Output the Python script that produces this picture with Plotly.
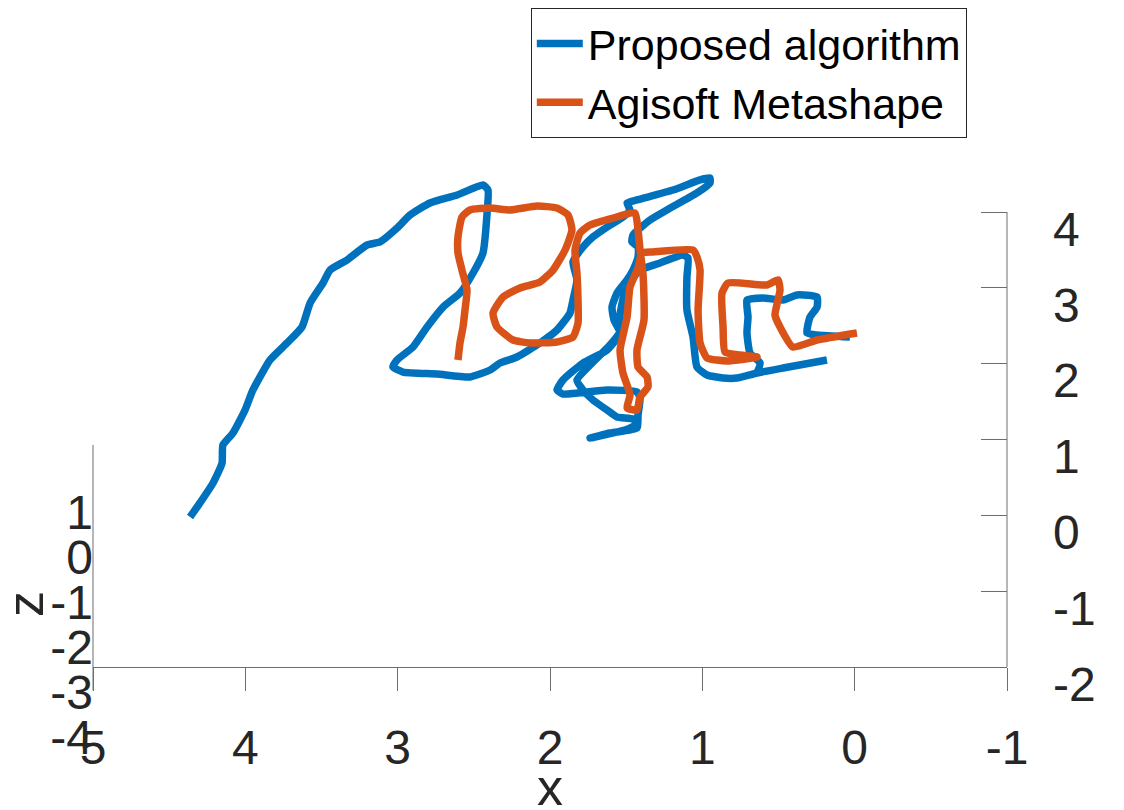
import plotly.graph_objects as go

# ---------------- data (x, y of the two camera trajectories, seen from above) ----------------
proposed_x = [4.363, 4.298, 4.212, 4.153, 4.147, 4.081, 4.002, 3.950, 3.838, 3.726, 3.628, 3.575,
              3.490, 3.444, 3.333, 3.201, 3.116, 3.004, 2.919, 2.788, 2.610, 2.440, 2.407, 2.413,
              2.440, 2.505, 2.591, 2.702, 2.807, 2.899, 3.004, 3.031, 2.965, 2.742, 2.525, 2.394,
              2.328, 2.217, 2.066, 1.954, 1.869, 1.849, 1.823, 1.849, 1.783, 1.718, 1.626, 1.521,
              1.475, 1.494, 1.429, 1.192, 1.015, 0.950, 0.950, 1.035, 1.232, 1.343, 1.455, 1.462,
              1.422, 1.422, 1.455, 1.494, 1.560, 1.593, 1.580, 1.540, 1.626, 1.783, 1.915, 1.954,
              1.915, 1.626, 1.429, 1.409, 1.422, 1.429, 1.606, 1.737,
              1.508, 1.429, 1.455, 1.560, 1.626, 1.718, 1.783, 1.823, 1.737, 1.606, 1.534, 1.540,
              1.514, 1.462, 1.409, 1.278, 1.127, 1.094, 1.101, 1.101, 1.061, 1.035, 0.969, 0.864,
              0.772, 0.641, 0.470, 0.182,
              None,
              0.641, 0.621, 0.687, 0.707, 0.700, 0.707, 0.602, 0.470, 0.378, 0.247, 0.247, 0.293,
              0.313, 0.247, 0.031]
proposed_y = [-0.022, 0.163, 0.426, 0.690, 0.928, 1.086, 1.389, 1.653, 2.049, 2.273, 2.484, 2.800,
              3.064, 3.235, 3.367, 3.565, 3.605, 3.789, 3.961, 4.119, 4.224, 4.356, 4.290, 3.987,
              3.460, 3.196, 2.932, 2.747, 2.484, 2.220, 2.049, 1.956, 1.890, 1.864, 1.825, 1.917,
              2.009, 2.088, 2.273, 2.444, 2.668, 2.840, 3.104, 3.341, 3.539, 3.671, 3.802, 3.934,
              4.027, 4.119, 4.159, 4.290, 4.423, 4.449, 4.383, 4.251, 4.027, 3.895, 3.697, 3.605,
              3.539, 3.407, 3.235, 3.104, 2.932, 2.747, 2.576, 2.405, 2.180, 2.009, 1.785, 1.653,
              1.600, 1.653, 1.627, 1.547, 1.323, 1.152, 1.086, 1.020,
              1.125, 1.205, 1.271, 1.297, 1.389, 1.521, 1.653, 1.785, 1.983, 2.246, 2.444, 2.642,
              2.906, 3.104, 3.235, 3.328, 3.433, 3.394, 3.143, 2.708, 2.352, 1.956, 1.851, 1.811,
              1.811, 1.877, 1.943, 2.049,
              None,
              1.877, 2.009, 2.141, 2.405, 2.615, 2.840, 2.866, 2.840, 2.906, 2.879, 2.747, 2.615,
              2.405, 2.378, 2.352]

metashape_x = [2.604, 2.591, 2.571, 2.558, 2.545, 2.578, 2.604, 2.604, 2.578, 2.525, 2.394, 2.263,
               2.085, 1.954, 1.882, 1.856, 1.901, 1.980, 2.066, 2.197, 2.308, 2.374, 2.348, 2.243,
               2.131, 1.954, 1.849, 1.816, 1.816, 1.823, 1.836, 1.803, 1.737, 1.586, 1.442, 1.422,
               1.409, 1.389, 1.383, 1.429, 1.422, 1.363, 1.357, 1.409, 1.429, 1.494, 1.475, 1.521,
               1.540, 1.494, 1.475, 1.422, 1.396, 1.324, 1.061, 1.035, 1.015, 1.028, 1.015, 0.969,
               0.838, 0.641, 0.753, 0.851, 0.864, 0.871, 0.831, 0.575, 0.503, 0.490, 0.523, 0.490,
               0.405, 0.247, -0.015]
metashape_y = [2.049, 2.273, 2.484, 2.708, 2.972, 3.235, 3.460, 3.671, 3.934, 4.027, 4.053, 4.027,
               4.079, 4.053, 3.961, 3.763, 3.499, 3.235, 3.077, 2.998, 2.879, 2.668, 2.484, 2.312,
               2.273, 2.286, 2.352, 2.536, 2.840, 3.196, 3.499, 3.723, 3.829, 3.921, 3.987, 3.763,
               3.499, 3.169, 2.576, 2.180, 1.956, 1.825, 1.692, 1.561, 1.389, 1.416, 1.587, 1.877,
               2.180, 2.615, 3.011, 3.262, 3.460, 3.473, 3.499, 3.407, 3.235, 2.708, 2.273, 2.075,
               2.036, 2.088, 2.114, 2.154, 2.484, 2.932, 3.064, 3.038, 3.104, 2.972, 2.642, 2.484,
               2.220, 2.312, 2.405]

x_ticks = [5, 4, 3, 2, 1, 0, -1]
y_ticks = [-2, -1, 0, 1, 2, 3, 4]
z_ticks = [-4, -3, -2, -1, 0, 1]
series_names = ["Proposed algorithm", "Agisoft Metashape"]
series_colors = ["#0072BD", "#D95319"]

# ---------------- figure ----------------
FONT = "Liberation Sans, Arial, Helvetica, sans-serif"
TXT = "#262626"
AXC = "#6e6e6e"

fig = go.Figure()
fig.add_trace(go.Scatter(x=proposed_x, y=proposed_y, mode="lines", name=series_names[0],
                         line=dict(color=series_colors[0], width=7.5, shape="spline", smoothing=0.5),
                         connectgaps=False))
fig.add_trace(go.Scatter(x=metashape_x, y=metashape_y, mode="lines", name=series_names[1],
                         line=dict(color=series_colors[1], width=7.5, shape="spline", smoothing=0.5)))
# carrier for the z axis
fig.add_trace(go.Scatter(x=[None], y=[None], yaxis="y2", showlegend=False, hoverinfo="skip"))

fig.update_layout(
    width=1124, height=810,
    margin=dict(l=85, r=125, t=0, b=58),
    paper_bgcolor="white", plot_bgcolor="white",
    font=dict(family=FONT, color=TXT, size=48),
    showlegend=True,
    legend=dict(x=0.479, y=1.0, xanchor="left", yanchor="top",
                font=dict(size=43, family=FONT, color="black"),
                bgcolor="white", bordercolor=TXT, borderwidth=1,
                itemwidth=46, tracegroupgap=0),
    xaxis=dict(range=[5, -1], tickvals=x_ticks, ticktext=[str(v) for v in x_ticks],
               ticks="outside", ticklen=23, tickcolor=AXC, tickwidth=1,
               showline=True, linecolor=AXC, linewidth=1,
               anchor="free", position=0.12367,
               showgrid=False, zeroline=False,
               tickfont=dict(size=48, color=TXT), ticklabelstandoff=15),
    yaxis=dict(range=[-3.2264, 6.6905], tickvals=y_ticks, ticktext=[str(v) for v in y_ticks],
               side="right", anchor="x",
               ticks="inside", ticklen=26, tickcolor=AXC, tickwidth=1,
               showline=False, showgrid=False, zeroline=False,
               tickfont=dict(size=48, color=TXT), ticklabelstandoff=45, ticklabelshift=17),
    yaxis2=dict(range=[-4.511, 12.2], tickvals=z_ticks, ticktext=[str(v) for v in z_ticks],
                overlaying="y", side="left", anchor="free", position=0,
                ticks="", showline=False, showgrid=False, zeroline=False,
                tickfont=dict(size=48, color=TXT), ticklabelstandoff=0),
    shapes=[
        dict(type="line", xref="paper", yref="y", x0=1, x1=1, y0=-2, y1=4,
             line=dict(color=AXC, width=1)),
        dict(type="line", xref="paper", yref="y2", x0=0, x1=0, y0=-2.96, y1=2.49,
             line=dict(color=AXC, width=1)),
    ],
    annotations=[
        dict(text="z", xref="paper", yref="paper", x=-0.0744, y=0.2074, textangle=-90,
             showarrow=False, xanchor="center", yanchor="middle", font=dict(size=52, color=TXT)),
        dict(text="x", xref="paper", yref="paper", x=0.5, y=-0.0355,
             showarrow=False, xanchor="center", yanchor="middle", font=dict(size=52, color=TXT)),
        dict(text="y", xref="paper", yref="paper", x=1.137, y=0.347,
             showarrow=False, xanchor="center", yanchor="middle", font=dict(size=52, color=TXT)),
    ],
)

fig.write_html("out.html")
